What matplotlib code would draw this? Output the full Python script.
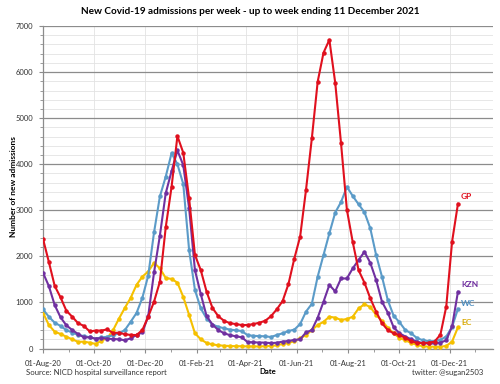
import numpy as np
import pandas as pd
import matplotlib
matplotlib.use('Agg')
import matplotlib.pyplot as plt
import matplotlib.dates as mdates
from matplotlib.ticker import MultipleLocator

plt.rcParams['font.family'] = ['Lato', 'DejaVu Sans']

# weekly admissions, week ending 01-Aug-20 ... 11-Dec-21
weeks = pd.date_range('2020-08-01', periods=72, freq='7D')

gp = [2380, 1880, 1360, 1110, 820, 690, 550, 490, 370, 390,
      390, 415, 335, 345, 310, 295, 293, 400, 690, 1016,
      1450, 2630, 3510, 4610, 4250, 3260, 2030, 1700, 1230, 880,
      700, 600, 550, 530, 510, 510, 530, 560, 600, 700,
      850, 1030, 1400, 1950, 2430, 3440, 4560, 5790, 6420, 6700,
      5770, 4450, 3010, 2310, 1700, 1430, 1090, 800, 550, 400,
      330, 290, 230, 160, 120, 120, 125, 150, 300, 910,
      2320, 3140]
kzn = [1645, 1356, 944, 677, 503, 401, 315, 243, 243, 213,
       228, 213, 206, 199, 180, 221, 293, 350, 700, 1650,
       2450, 3370, 3850, 4300, 3980, 3050, 1700, 1180, 700, 520,
       400, 330, 290, 265, 245, 140, 135, 130, 128, 118,
       125, 150, 165, 185, 200, 350, 400, 670, 1016, 1380,
       1240, 1520, 1520, 1740, 1920, 2100, 1860, 1490, 1016, 780,
       460, 330, 260, 200, 150, 115, 110, 110, 125, 180,
       480, 1230]
wc = [850, 690, 560, 490, 400, 345, 295, 270, 245, 215,
      240, 255, 290, 330, 400, 580, 770, 1100, 1580, 2520,
      3300, 3730, 4240, 4000, 3570, 2140, 1270, 870, 650, 520,
      470, 440, 410, 395, 380, 290, 275, 270, 265, 250,
      293, 330, 380, 410, 530, 800, 970, 1560, 2030, 2500,
      2950, 3180, 3510, 3310, 3130, 2960, 2610, 2030, 1560, 1050,
      710, 570, 400, 330, 225, 180, 160, 160, 190, 260,
      470, 860]
ec = [780, 510, 365, 315, 256, 200, 145, 148, 127, 100,
      170, 225, 400, 650, 880, 1100, 1380, 1560, 1670, 1860,
      1740, 1530, 1510, 1430, 1120, 730, 330, 200, 120, 90,
      70, 60, 55, 50, 50, 45, 45, 45, 50, 55,
      70, 100, 120, 160, 220, 290, 400, 510, 580, 690,
      670, 620, 640, 690, 870, 960, 900, 730, 600, 450,
      330, 230, 180, 120, 80, 50, 40, 40, 40, 55,
      150, 460]

series = [
    ('EC', ec, '#F5C000', '#D9A800'),
    ('WC', wc, '#5B9BC8', '#4A8CBF'),
    ('KZN', kzn, '#7030A0', '#7030A0'),
    ('GP', gp, '#E0101E', '#E0101E'),
]
label_offsets = {'GP': (3, 4), 'KZN': (3, 4), 'WC': (3, 2), 'EC': (3, 1)}

W, H = 500, 384
fig = plt.figure(figsize=(5.0, 3.84), dpi=100)
ax = fig.add_axes([0.086, 0.0924, 0.9, 0.8399])

for name, vals, col, txtcol in series:
    ax.plot(weeks, vals, color=col, lw=1.5, marker='o', ms=2.2, zorder=3)
    ax.annotate(name, (weeks[-1], vals[-1]), xytext=label_offsets[name],
                textcoords='offset pixels', ha='left', va='bottom',
                fontsize=6, fontweight='bold', color=txtcol)

ax.set_ylim(0, 7000)
ax.set_xlim(pd.Timestamp('2020-08-01'), pd.Timestamp('2022-01-22'))

ax.yaxis.set_major_locator(MultipleLocator(1000))
ax.yaxis.set_minor_locator(MultipleLocator(200))
ax.xaxis.set_major_locator(mdates.MonthLocator(bymonth=[2, 4, 6, 8, 10, 12]))
ax.xaxis.set_minor_locator(mdates.MonthLocator())
ax.xaxis.set_major_formatter(mdates.DateFormatter('%d-%b-%y'))

ax.grid(which='major', axis='y', color='#8c8c8c', lw=0.9)
ax.grid(which='minor', axis='y', color='#e3e3e3', lw=0.6)
ax.grid(which='major', axis='x', color='#e3e3e3', lw=0.6)
ax.set_axisbelow(True)

for s in ['top', 'right']:
    ax.spines[s].set_visible(False)
for s in ['left', 'bottom']:
    ax.spines[s].set_color('#8c8c8c')
    ax.spines[s].set_linewidth(0.9)

ax.tick_params(which='both', colors='#8c8c8c', labelcolor='#333333', labelsize=5.5)
ax.tick_params(which='major', length=3)
ax.tick_params(which='minor', length=2)
ax.tick_params(axis='x', which='major', pad=5)
ax.tick_params(axis='y', which='major', pad=4)

fig.text(250 / W, 1 - 12 / H,
         'New Covid-19 admissions per week - up to week ending 11 December 2021',
         fontsize=7.2, fontweight='bold', ha='center', va='center')
fig.text(14 / W, 1 - 187 / H, 'Number of new admissions', fontsize=6,
         fontweight='bold', rotation=90, ha='center', va='center')
fig.text(268 / W, 1 - 372 / H, 'Date', fontsize=5.6, fontweight='bold',
         ha='center', va='center')
fig.text(26 / W, 1 - 373 / H, 'Source: NICD hospital surveillance report',
         fontsize=5.6, color='#333333', va='center')
fig.text(483 / W, 1 - 373 / H, 'twitter: @sugan2503', fontsize=5.6,
         color='#333333', ha='right', va='center')

fig.savefig('out.png', dpi=100)
